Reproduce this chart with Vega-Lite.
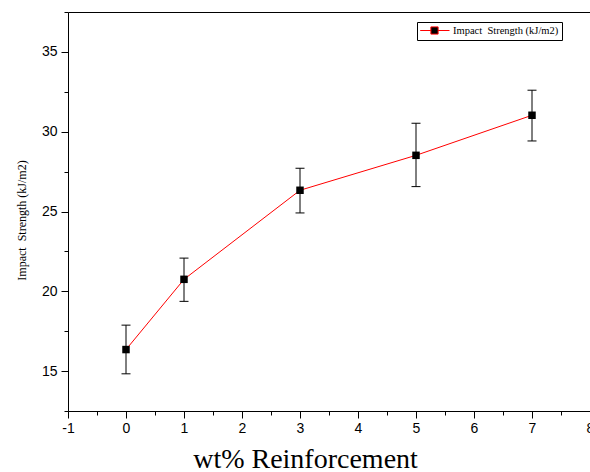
{
  "$schema": "https://vega.github.io/schema/vega-lite/v6.json",
  "width": 522,
  "height": 399,
  "autosize": {"type": "none"},
  "padding": {"left": 68, "top": 12, "right": 0, "bottom": 61},
  "background": "white",
  "config": {
    "view": {"stroke": null},
    "axis": {
      "grid": false,
      "domainColor": "black",
      "domainWidth": 1,
      "tickColor": "black",
      "tickWidth": 1,
      "labelColor": "black",
      "titleColor": "black",
      "labelFont": "Liberation Sans",
      "labelFontSize": 14,
      "titleFont": "Liberation Serif",
      "titleFontWeight": "normal"
    }
  },
  "data": {
    "values": [
      {"wt": 0, "strength": 16.35, "lo": 14.83, "hi": 17.88, "series": "Impact\u00a0 Strength (kJ/m2)"},
      {"wt": 1, "strength": 20.75, "lo": 19.37, "hi": 22.08, "series": "Impact\u00a0 Strength (kJ/m2)"},
      {"wt": 3, "strength": 26.33, "lo": 24.91, "hi": 27.71, "series": "Impact\u00a0 Strength (kJ/m2)"},
      {"wt": 5, "strength": 28.52, "lo": 26.56, "hi": 30.53, "series": "Impact\u00a0 Strength (kJ/m2)"},
      {"wt": 7, "strength": 31.03, "lo": 29.42, "hi": 32.6, "series": "Impact\u00a0 Strength (kJ/m2)"}
    ]
  },
  "layer": [
    {
      "mark": {"type": "line", "strokeWidth": 1},
      "encoding": {
        "x": {
          "field": "wt", "type": "quantitative",
          "scale": {"domain": [-1, 8], "nice": false, "zero": false},
          "axis": {
            "orient": "bottom",
            "values": [-1, -0.5, 0, 0.5, 1, 1.5, 2, 2.5, 3, 3.5, 4, 4.5, 5, 5.5, 6, 6.5, 7, 7.5, 8],
            "labelExpr": "datum.value % 1 === 0 ? '' + datum.value : ''",
            "tickSize": {"condition": {"test": "datum.value % 1 === 0", "value": 7}, "value": 4},
            "labelPadding": 3,
            "labelFlush": false,
            "labelOverlap": false,
            "title": "wt% Reinforcement",
            "titleFontSize": 28,
            "titleX": 237,
            "titleY": 56,
            "titleAlign": "center",
            "titleBaseline": "alphabetic"
          }
        },
        "y": {
          "field": "strength", "type": "quantitative",
          "scale": {"domain": [12.5, 37.5], "nice": false, "zero": false},
          "axis": {
            "orient": "left",
            "values": [12.5, 15, 17.5, 20, 22.5, 25, 27.5, 30, 32.5, 35, 37.5],
            "labelExpr": "datum.value % 5 === 0 ? '' + datum.value : ''",
            "tickSize": {"condition": {"test": "datum.value % 5 === 0", "value": 7}, "value": 4},
            "labelPadding": 4,
            "labelOverlap": false,
            "labelFlush": false,
            "title": "Impact\u00a0 Strength (kJ/m2)",
            "titleFontSize": 12,
            "titleX": -47,
            "titleY": 208,
            "titleAngle": -90,
            "titleAlign": "center",
            "titleBaseline": "middle"
          }
        },
        "color": {
          "field": "series", "type": "nominal",
          "scale": {"range": ["#ff0000"]},
          "legend": {
            "title": null,
            "orient": "none",
            "legendX": 349,
            "legendY": 10,
            "strokeColor": "black",
            "fillColor": "white",
            "padding": 3,
            "symbolType": "M-1.06,0H1.08M2.52,0H4.8M1.08,-0.72H2.52V0.72H1.08Z",
            "symbolSize": 100,
            "symbolStrokeWidth": 1,
            "symbolFillColor": "black",
            "symbolStrokeColor": "#ff0000",
            "labelFont": "Liberation Serif",
            "labelFontSize": 10.5,
            "labelColor": "black",
            "labelOffset": 22,
            "labelLimit": 300,
            "encode": {"symbols": {"update": {"fill": {"value": "black"}, "stroke": {"value": "#ff0000"}, "opacity": {"value": 1}}}}
          }
        }
      }
    },
    {
      "mark": {"type": "rule", "color": "black", "strokeWidth": 1},
      "encoding": {
        "x": {"field": "wt", "type": "quantitative", "scale": {"domain": [-1, 8], "nice": false, "zero": false}, "axis": null},
        "y": {"field": "lo", "type": "quantitative", "scale": {"domain": [12.5, 37.5], "nice": false, "zero": false}, "axis": null},
        "y2": {"field": "hi"}
      }
    },
    {
      "mark": {"type": "tick", "orient": "horizontal", "size": 9, "thickness": 1, "color": "black", "opacity": 1},
      "encoding": {
        "x": {"field": "wt", "type": "quantitative", "scale": {"domain": [-1, 8], "nice": false, "zero": false}, "axis": null},
        "y": {"field": "lo", "type": "quantitative", "scale": {"domain": [12.5, 37.5], "nice": false, "zero": false}, "axis": null}
      }
    },
    {
      "mark": {"type": "tick", "orient": "horizontal", "size": 9, "thickness": 1, "color": "black", "opacity": 1},
      "encoding": {
        "x": {"field": "wt", "type": "quantitative", "scale": {"domain": [-1, 8], "nice": false, "zero": false}, "axis": null},
        "y": {"field": "hi", "type": "quantitative", "scale": {"domain": [12.5, 37.5], "nice": false, "zero": false}, "axis": null}
      }
    },
    {
      "mark": {"type": "point", "shape": "square", "filled": true, "color": "black", "size": 56, "opacity": 1},
      "encoding": {
        "x": {
          "field": "wt", "type": "quantitative",
          "scale": {"domain": [-1, 8], "nice": false, "zero": false},
          "axis": {"orient": "top", "labels": false, "ticks": false, "title": null, "domainColor": "black"}
        },
        "y": {"field": "strength", "type": "quantitative", "scale": {"domain": [12.5, 37.5], "nice": false, "zero": false}, "axis": null}
      }
    }
  ],
  "resolve": {"axis": {"x": "independent", "y": "independent"}}
}
